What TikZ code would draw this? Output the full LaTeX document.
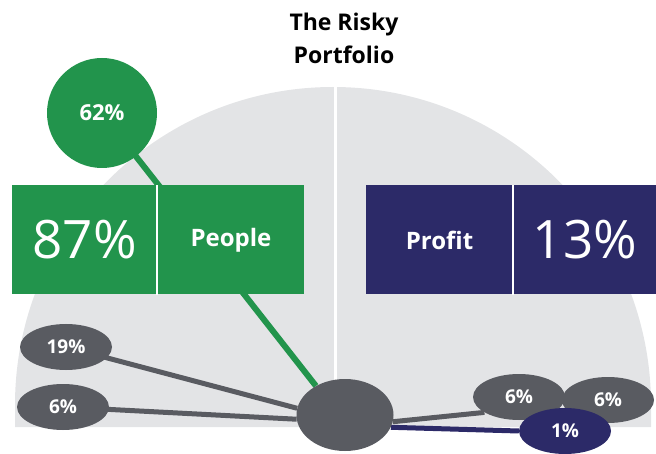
\documentclass[tikz,border=0pt]{standalone}
\usepackage{fontspec}
\setmainfont{Open Sans}
\usetikzlibrary{positioning}
\usetikzlibrary{shapes.geometric}
\definecolor{peopleGreen}{RGB}{34,148,76}
\definecolor{profitNavy}{RGB}{44,42,104}
\definecolor{bubbleGray}{RGB}{89,91,97}
\definecolor{dialGray}{RGB}{227,228,230}
\pgfdeclarelayer{dial}
\pgfdeclarelayer{links}
\pgfsetlayers{dial,links,main}
\tikzset{
	titleText/.style = {
		align=center, text=black, font=\fontsize{23}{33}\selectfont\bfseries
	},
	half/.style = {
		inner sep=0pt, minimum height=109pt, text=white
	},
	bigPct/.style = {
		half, font=\fontsize{53}{60}\selectfont
	},
	bigName/.style = {
		half, font=\fontsize{24}{28}\selectfont\bfseries
	},
	bubble/.style = {
		ellipse, inner sep=0pt, minimum width=92pt, minimum height=46pt,
		fill=bubbleGray, text=white, font=\fontsize{19}{22}\selectfont\bfseries
	},
	divider/.style = {
		draw=white, line width=2pt
	},
	link/.style = {
		line width=5pt, draw=bubbleGray
	}
}

\begin{document}
\begin{tikzpicture}[x=1pt, y=-1pt]
	\useasboundingbox (0,0) rectangle (656,454);

	% the grey half dial with its split
	\begin{pgfonlayer}{dial}
		\fill[dialGray] (15,427) -- (15,405) arc[start angle=180, end angle=0, radius=318pt] -- (651,427) -- cycle;
		\draw[white, line width=3pt] (335,87) -- (335,427);
	\end{pgfonlayer}

	\node [titleText] (title) at (344,38) {The Risky\\Portfolio};

	% people side
	\node [bigPct, fill=peopleGreen, minimum width=145pt] (pctPeople) at (84.5,240) {87\%};
	\node [bigName, fill=peopleGreen, minimum width=147pt, right=0pt of pctPeople] (namePeople) {People};
	\draw [divider] (pctPeople.north east) -- (pctPeople.south east);

	% profit side
	\node [bigName, fill=profitNavy, minimum width=147pt] (nameProfit) at (439.5,240) {Profit};
	\node [bigPct, fill=profitNavy, minimum width=143pt, right=0pt of nameProfit] (pctProfit) {13\%};
	\draw [divider] (nameProfit.north east) -- (nameProfit.south east);

	\node [circle, fill=peopleGreen, minimum size=110pt, inner sep=0pt, text=white,
		font=\fontsize{22}{26}\selectfont\bfseries] (c62) at (102,113) {62\%};
	\node [bubble, minimum width=97pt, minimum height=72pt] (hub) at (345,415) {};

	\node [bubble] (pNineteen) at (66,347) {19\%};
	\node [bubble] (pSix) at (63,407) {6\%};
	\node [bubble] (fSixA) at (519,397) {6\%};
	\node [bubble] (fSixB) at (608,400) {6\%};
	\node [bubble, fill=profitNavy] (fOne) at (565,431) {1\%};

	\begin{pgfonlayer}{links}
		\draw [link, draw=peopleGreen, line width=6pt] (c62.center) -- (hub.135);
		\draw [link] (pNineteen.center) -- (hub.172);
		\draw [link] (pSix.center) -- (hub.185);
		\draw [link] (hub.-8) -- (fSixA.-156);
		\draw [link, draw=profitNavy] (hub.-15) -- (fOne.west);
	\end{pgfonlayer}
\end{tikzpicture}
\end{document}
